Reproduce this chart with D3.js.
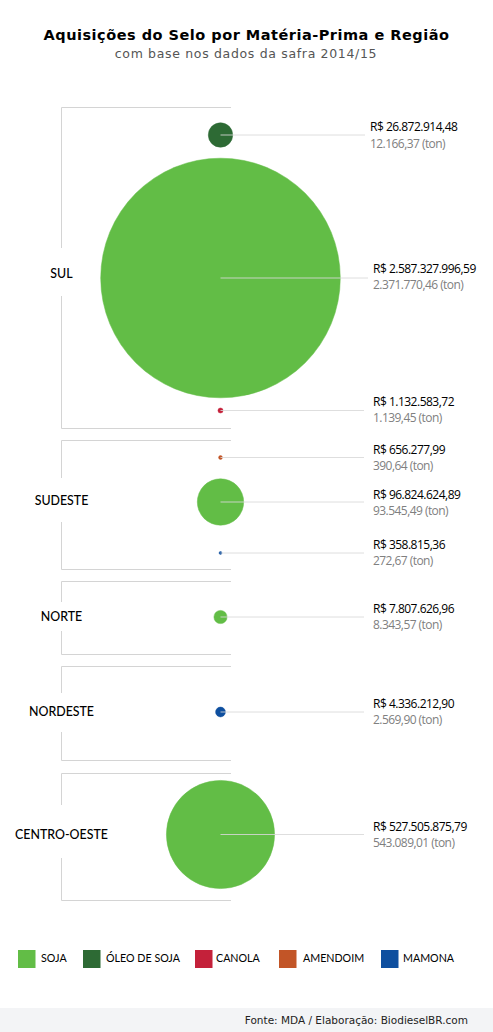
<!DOCTYPE html>
<html>
<head>
<meta charset="utf-8">
<script src="https://d3js.org/d3.v7.min.js"></script>
<style>
html, body { margin: 0; padding: 0; background: #fff; }
svg { display: block; }
.title { font-family: "DejaVu Sans"; font-weight: bold; font-size: 14.5px; letter-spacing: .5px; fill: #000; }
.subtitle { font-family: "DejaVu Sans"; font-size: 12.5px; letter-spacing: .67px; fill: #555; }
.region { font-family: Lato; font-size: 12.4px; font-weight: 500; fill: #000; }
.money { font-family: "Open Sans"; font-size: 12px; letter-spacing: -.5px; fill: #000; }
.tons { font-family: "Open Sans"; font-size: 12px; letter-spacing: -.55px; fill: #808080; }
.legend { font-family: Lato; font-size: 10.7px; fill: #000; }
.source { font-family: "DejaVu Sans"; font-size: 10.5px; fill: #222; }
</style>
</head>
<body>
<div id="chart"></div>
<script>
/* Data */
var regions = ["SUL", "SUDESTE", "NORTE", "NORDESTE", "CENTRO-OESTE"];
var materials = ["SOJA", "ÓLEO DE SOJA", "CANOLA", "AMENDOIM", "MAMONA"];

var rowRegion = ["SUL", "SUL", "SUL", "SUDESTE", "SUDESTE", "SUDESTE", "NORTE", "NORDESTE", "CENTRO-OESTE"];
var rowMaterial = ["ÓLEO DE SOJA", "SOJA", "CANOLA", "AMENDOIM", "SOJA", "MAMONA", "SOJA", "MAMONA", "SOJA"];
var rowValue = [26872914.48, 2587327996.59, 1132583.72, 656277.99, 96824624.89, 358815.36, 7807626.96, 4336212.90, 527505875.79];
var rowTons = [12166.37, 2371770.46, 1139.45, 390.64, 93545.49, 272.67, 8343.57, 2569.90, 543089.01];

/* Layout */
var width = 493, height = 1032;
var rowIds = d3.range(rowValue.length);

var svg = d3.select("#chart").append("svg")
  .attr("width", width)
  .attr("height", height);

/* Scales */
var rScale = d3.scaleSqrt()
  .domain([0, d3.max(rowValue)])
  .range([0, 119.8]);

var color = d3.scaleOrdinal()
  .domain(materials)
  .range(["#62bd46", "#2d6a34", "#c4213a", "#c25527", "#0e4f9f"]);

var yScale = d3.scaleOrdinal()
  .domain(rowIds)
  .range([135, 278, 410.5, 457.5, 502, 553, 617, 712, 834.5]);

var lineEnd = d3.scaleOrdinal()
  .domain(rowIds)
  .range([365, 368, 364, 364, 364, 364, 364, 364, 364]);

var labelX = d3.scaleOrdinal()
  .domain(rowIds)
  .range([370, 373, 373, 373, 373, 373, 373, 373, 373]);

// baselines of the two text lines next to each bubble
var moneyY = d3.scaleOrdinal()
  .domain(rowIds)
  .range([131, 273, 406, 454, 499, 549, 613, 708, 831]);

var tonsY = d3.scaleOrdinal()
  .domain(rowIds)
  .range([147.5, 289, 422, 470, 514.5, 565, 629, 724, 847]);

var bracketTop = d3.scaleOrdinal().domain(regions).range([107.5, 440.5, 581.5, 666.5, 773.5]);
var bracketBottom = d3.scaleOrdinal().domain(regions).range([428.5, 569.5, 654.5, 760.5, 900.5]);
var gapTop = d3.scaleOrdinal().domain(regions).range([248, 478, 602, 693, 805]);
var gapBottom = d3.scaleOrdinal().domain(regions).range([296, 522, 631, 732, 858]);
var regionY = d3.scaleOrdinal().domain(regions).range([278, 505, 621, 716, 839]);

var centerX = 220.5, bracketLeft = 61.5, bracketRight = 231;

/* Title */
svg.append("text").attr("class", "title")
  .attr("x", 246.5).attr("y", 40).attr("text-anchor", "middle")
  .text("Aquisições do Selo por Matéria-Prima e Região");
svg.append("text").attr("class", "subtitle")
  .attr("x", 246).attr("y", 58).attr("text-anchor", "middle")
  .text("com base nos dados da safra 2014/15");

/* Region brackets */
var bracket = svg.append("g").selectAll("g")
  .data(regions).enter()
  .append("g");

bracket.append("path")
  .attr("fill", "none")
  .attr("stroke", "#d4d4d4")
  .attr("stroke-width", 1)
  .attr("d", d => `M${bracketRight},${bracketTop(d)}H${bracketLeft}V${gapTop(d)}M${bracketLeft},${gapBottom(d)}V${bracketBottom(d)}H${bracketRight}`);

bracket.append("text")
  .attr("class", "region")
  .attr("x", bracketLeft)
  .attr("y", d => regionY(d))
  .attr("text-anchor", "middle")
  .text(d => d);

/* Bubbles */
svg.append("g").selectAll("circle")
  .data(rowIds).enter()
  .append("circle")
  .attr("cx", centerX)
  .attr("cy", i => yScale(i))
  .attr("r", i => rScale(rowValue[i]))
  .attr("fill", i => color(rowMaterial[i]))
  .attr("stroke", i => color(rowMaterial[i]))
  .attr("stroke-width", 0.5);

/* Leader lines */
svg.append("g").selectAll("line")
  .data(rowIds).enter()
  .append("line")
  .attr("x1", centerX)
  .attr("x2", i => lineEnd(i))
  .attr("y1", i => yScale(i))
  .attr("y2", i => yScale(i))
  .attr("stroke", "#d8d8d8")
  .attr("stroke-opacity", 0.85)
  .attr("stroke-width", 1);

/* Value labels */
var money = d3.formatLocale({ decimal: ",", thousands: ".", grouping: [3], currency: ["R$ ", ""] }).format(",.2f");

var labels = svg.append("g").selectAll("g")
  .data(rowIds).enter()
  .append("g");

labels.append("text")
  .attr("class", "money")
  .attr("x", i => labelX(i))
  .attr("y", i => moneyY(i))
  .text(i => "R$ " + money(rowValue[i]));

labels.append("text")
  .attr("class", "tons")
  .attr("x", i => labelX(i))
  .attr("y", i => tonsY(i))
  .text(i => money(rowTons[i]) + " (ton)");

/* Legend */
var swatchX = d3.scaleOrdinal().domain(materials).range([18, 83, 195, 279, 381]);
var legendX = d3.scaleOrdinal().domain(materials).range([41, 106, 216, 303, 403]);

var legend = svg.append("g").selectAll("g")
  .data(materials).enter()
  .append("g");

legend.append("rect")
  .attr("x", d => swatchX(d))
  .attr("y", 950)
  .attr("width", 17.5)
  .attr("height", 18)
  .attr("fill", d => color(d));

legend.append("text")
  .attr("class", "legend")
  .attr("x", d => legendX(d))
  .attr("y", 962)
  .text(d => d);

/* Footer */
svg.append("rect")
  .attr("x", 0).attr("y", 1008)
  .attr("width", width).attr("height", 24)
  .attr("fill", "#f3f4f6");

svg.append("text").attr("class", "source")
  .attr("x", 468).attr("y", 1024).attr("text-anchor", "end")
  .text("Fonte: MDA / Elaboração: BiodieselBR.com");
</script>
</body>
</html>
